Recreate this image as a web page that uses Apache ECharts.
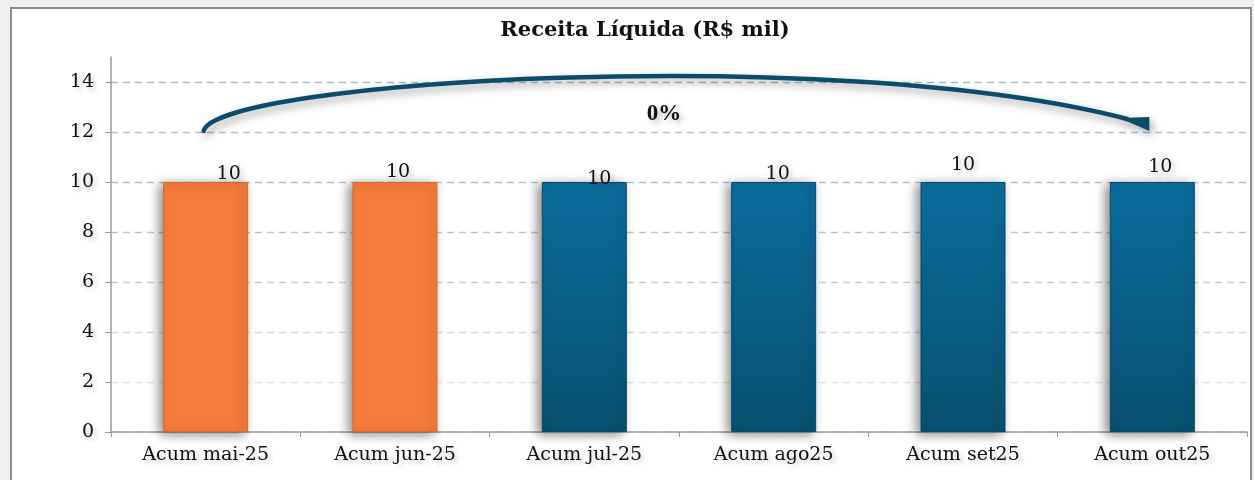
<!DOCTYPE html>
<html lang="pt-BR">
<head>
  <meta charset="utf-8">
  <script src="https://cdn.jsdelivr.net/npm/echarts@6/dist/echarts.min.js"></script>
  <style>
    body { margin: 0; background: #efefef; }
    .frame { position: absolute; left: 10px; top: 7px; width: 1238px; height: 480px;
             background: #fff; border: 2px solid #8c8c8c; border-bottom: none; }
    #chart { position: absolute; left: 0; top: 0; width: 1254px; height: 480px; }
  </style>
</head>
<body>
  <div class="frame"></div>
  <div id="chart"></div>
  <script>
    // dados do gráfico
    const categories = ['Acum mai-25', 'Acum jun-25', 'Acum jul-25', 'Acum ago25', 'Acum set25', 'Acum out25'];
    const values = [10, 10, 10, 10, 10, 10];
    const yTicks = [0, 2, 4, 6, 8, 10, 12, 14];

    // deslocamento dos rótulos (como no Excel original)
    const labelOffsets = [[23, 2], [3, 0], [15, 7], [4, 2], [0, -7], [8, -5]];

    const serif = '"DejaVu Serif", serif';
    const txtShadow = { textShadowColor: 'rgba(0,0,0,0.22)', textShadowBlur: 5, textShadowOffsetX: 3, textShadowOffsetY: 3 };

    const orange = { color: '#f57c3a', borderColor: '#d8672a', borderWidth: 1 };
    const blue = {
      color: new echarts.graphic.LinearGradient(0, 0, 0, 1, [
        { offset: 0, color: '#0b6d9d' },
        { offset: 1, color: '#08506f' }
      ]),
      borderColor: '#074a68', borderWidth: 1
    };

    // linhas de grade que clareiam para baixo
    const gridColor = new echarts.graphic.LinearGradient(0, 70, 0, 400, [
      { offset: 0, color: '#a6bad0' },
      { offset: 0.45, color: '#b3c4d7' },
      { offset: 1, color: '#e0e6ee' }
    ], true);

    // variação entre primeiro e último
    const variation = Math.round((values[values.length - 1] / values[0] - 1) * 100) + '%';
    const arrowLevel = 12;

    const chart = echarts.init(document.getElementById('chart'), null, { renderer: 'canvas' });

    const option = {
      animation: false,
      backgroundColor: 'transparent',
      title: {
        text: 'Receita Líquida (R$ mil)',
        left: 640,
        top: 15,
        textAlign: 'center',
        textStyle: { fontFamily: serif, fontWeight: 'bold', fontSize: 21, color: '#111' }
      },
      grid: { left: 111, right: 7, top: 57, bottom: 48, containLabel: false },
      xAxis: {
        type: 'category',
        data: categories,
        axisLine: { lineStyle: { color: '#9a9a9a', width: 1.5 } },
        axisTick: { show: true, length: 5, lineStyle: { color: '#9a9a9a' } },
        axisLabel: Object.assign({ fontFamily: serif, fontSize: 19, color: '#111', margin: 14 }, txtShadow)
      },
      yAxis: {
        type: 'value',
        min: 0,
        max: 15,
        interval: 1,
        axisLine: { show: true, lineStyle: { color: '#9a9a9a', width: 1.5 } },
        axisTick: { show: true, length: 6, customValues: yTicks, lineStyle: { color: '#9a9a9a' } },
        axisLabel: Object.assign({ fontFamily: serif, fontSize: 19, color: '#111', margin: 17, customValues: yTicks }, txtShadow),
        splitLine: { show: true, lineStyle: { color: gridColor, type: [7, 5], width: 1.3 } }
      },
      series: [
        {
          type: 'bar',
          barWidth: 85,
          data: values.map((v, i) => ({
            value: v,
            itemStyle: Object.assign({
              shadowColor: 'rgba(0,0,0,0.45)', shadowBlur: 10, shadowOffsetX: -4, shadowOffsetY: 2
            }, i < 2 ? orange : blue),
            label: { offset: labelOffsets[i] }
          })),
          label: Object.assign({
            show: true, position: 'top', distance: 0,
            fontFamily: serif, fontSize: 19, color: '#111'
          }, txtShadow),
          z: 2
        }
      ]
    };

    chart.setOption(option);

    // seta curva entre o primeiro e o último período
    const S = chart.convertToPixel({ gridIndex: 0 }, [0, arrowLevel]);
    const E = chart.convertToPixel({ gridIndex: 0 }, [categories.length - 1, arrowLevel]);
    const p0 = [S[0] - 2, S[1] - 1];
    const p3 = [E[0] - 25, E[1] - 13];
    const arrowColor = '#0d4b6b';
    const shadow = { shadowColor: 'rgba(0,0,0,0.35)', shadowBlur: 8, shadowOffsetX: 3, shadowOffsetY: 4 };

    chart.setOption({
      graphic: [
        {
          type: 'bezierCurve',
          z: 10,
          shape: {
            x1: p0[0], y1: p0[1],
            cpx1: p0[0] + 12, cpy1: p0[1] - 50,
            cpx2: p0[0] + 630, cpy2: p0[1] - 88,
            x2: p3[0], y2: p3[1]
          },
          style: Object.assign({ stroke: arrowColor, lineWidth: 4.5, fill: null, lineCap: 'round' }, shadow)
        },
        {
          type: 'polygon',
          z: 10,
          shape: { points: [[E[0] - 33, E[1] - 14], [E[0] - 3, E[1] - 15], [E[0] - 3, E[1] - 1]] },
          style: Object.assign({ fill: arrowColor }, shadow)
        },
        {
          type: 'text',
          z: 10,
          x: (S[0] + E[0]) / 2 - 15,
          y: chart.convertToPixel({ yAxisIndex: 0 }, 12.7),
          style: {
            text: variation,
            fontFamily: '"Liberation Serif", serif',
            fontWeight: 'bold',
            fontSize: 23,
            fill: '#111',
            align: 'center',
            verticalAlign: 'middle',
            textShadowColor: 'rgba(0,0,0,0.25)', textShadowBlur: 5, textShadowOffsetX: 3, textShadowOffsetY: 3
          }
        }
      ]
    });
  </script>
</body>
</html>
